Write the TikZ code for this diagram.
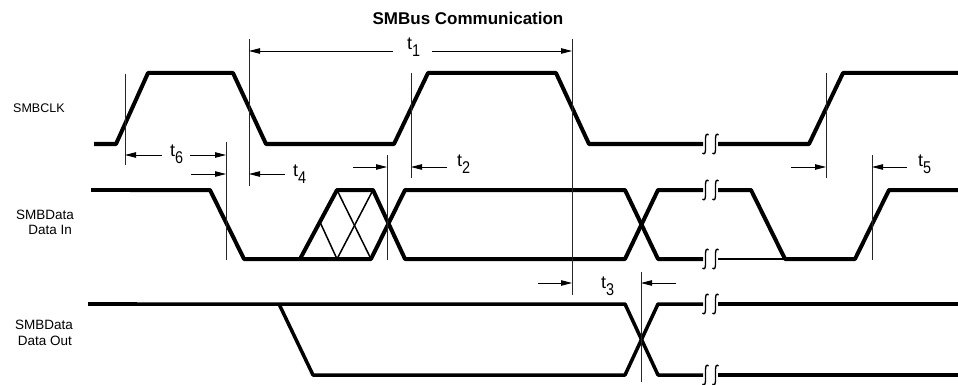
\documentclass[tikz,border=0pt]{standalone}
\usepackage{fontspec}
\setmainfont{Liberation Sans}
\usetikzlibrary{arrows.meta}
\newcommand{\tsub}[1]{{\fontsize{18}{18}\selectfont t}\raisebox{-7pt}{\scalebox{0.85}[1]{\fontsize{17}{17}\selectfont #1}}}
\newcommand{\brk}[2]{%
  \draw[brkline] (#1+3,#2-9) .. controls (#1+1,#2-11) and (#1,#2-9) .. (#1,#2-5)
     -- (#1,#2+5) .. controls (#1,#2+9) and (#1-1,#2+11) .. (#1-3,#2+9);}
\begin{document}
\begin{tikzpicture}[x=1pt,y=-1pt,
  sig/.style={line width=4pt,line join=round},
  sigthin/.style={line width=2.2pt},
  hatch/.style={line width=1.5pt},
  markline/.style={line width=0.9pt,black!85},
  dim/.style={line width=0.9pt,-{Triangle[length=11pt,width=5.5pt]}},
  brkline/.style={line width=1.3pt},
  lbl/.style={font=\fontsize{13.5}{14}\selectfont,inner sep=0pt},
  tlbl/.style={inner sep=0pt,anchor=base west}]
\useasboundingbox (0,0) rectangle (958,385);
% title
\node[font=\fontsize{17}{17}\selectfont\bfseries,inner sep=0pt] (title) at (468,18) {SMBus Communication};
% row labels
\node[lbl,font=\fontsize{12.5}{13}\selectfont,anchor=west] (clk) at (13,108.5) {SMBCLK};
\node[lbl,anchor=east] (din1) at (74,214.5) {SMBData};
\node[lbl,anchor=east] (din2) at (72,229.5) {Data In};
\node[lbl,anchor=east] (dout1) at (73,325) {SMBData};
\node[lbl,anchor=east] (dout2) at (72,341) {Data Out};
% SMBCLK
\draw[sig] (94,144) -- (116,144) -- (148,73) -- (233,73) -- (266,144) -- (394,144)
  -- (428,73) -- (556,73) -- (589,144) -- (703,144);
\draw[sig] (718,144) -- (809,144) -- (843,73) -- (958,73);
% Data In
\draw[line width=4.5pt] (91,190) -- (132,190);
\draw[sig] (130,190) -- (210,190) -- (244,259) -- (371,259) -- (405,190) -- (625,190) -- (658,259) -- (703,259);
\draw[sig] (300,259) -- (337,190) -- (373,190) -- (405,259) -- (625,259) -- (658,190) -- (703,190);
\draw[hatch] (320,222) -- (337,259) -- (373,190);
\draw[hatch] (337,190) -- (371,259);
\draw[sig] (718,190) -- (751,190) -- (785,259) -- (855,259) -- (889,190) -- (958,190);
\draw[sigthin] (718,259) -- (787,259);
% Data Out
\draw[line width=4.5pt] (88,304) -- (137,304);
\draw[line width=3.5pt,line join=round] (135,304) -- (625,304) -- (658,375) -- (703,375);
\draw[line width=3.5pt,line join=round] (279,304) -- (313,375) -- (625,375) -- (658,304) -- (703,304);
\draw[line width=3.5pt] (718,304) -- (958,304);
\draw[line width=3.5pt] (718,375) -- (958,375);
% breaks
\foreach \yy in {144,190,259,304,375} {\brk{705.5}{\yy}\brk{715.5}{\yy}}
% marker lines
\coordinate (v1t) at (125,74);  \coordinate (v1b) at (125,165);
\coordinate (v2t) at (226,142); \coordinate (v2b) at (226,260);
\coordinate (v3t) at (249,39);  \coordinate (v3b) at (249,186);
\coordinate (v4t) at (387,155); \coordinate (v4b) at (387,260);
\coordinate (v5t) at (411,73);  \coordinate (v5b) at (411,178);
\coordinate (v6t) at (572,39);  \coordinate (v6b) at (572,295);
\coordinate (v7t) at (641,272); \coordinate (v7b) at (641,382);
\coordinate (v8t) at (826,73);  \coordinate (v8b) at (826,178);
\coordinate (v9t) at (872,155); \coordinate (v9b) at (872,260);
\foreach \v in {1,...,9} {\draw[markline] (v\v t) -- (v\v b);}
% timing labels
\node[tlbl] (t1) at (407,50) {\tsub{1}};
\node[tlbl] (t6) at (170,157) {\tsub{6}};
\node[tlbl] (t4) at (293,176) {\tsub{4}};
\node[tlbl] (t2) at (457,166) {\tsub{2}};
\node[tlbl] (t5) at (918,166) {\tsub{5}};
\node[tlbl] (t3) at (601,288) {\tsub{3}};
% dimension arrows
\draw[dim] (393,51) -- (v3t |- 0,51);
\draw[dim] (432,51) -- (v6t |- 0,51);
\draw[dim] (162,155) -- (v1t |- 0,155);
\draw[dim] (190,155) -- (v2t |- 0,155);
\draw[dim] (191,174) -- (v2t |- 0,174);
\draw[dim] (285,174) -- (v3t |- 0,174);
\draw[dim] (353,167) -- (v4t |- 0,167);
\draw[dim] (447,167) -- (v5t |- 0,167);
\draw[dim] (791,167) -- (v8t |- 0,167);
\draw[dim] (907,167) -- (v9t |- 0,167);
\draw[dim] (538,283) -- (v6t |- 0,283);
\draw[dim] (676,283) -- (v7t |- 0,283);
\end{tikzpicture}
\end{document}
